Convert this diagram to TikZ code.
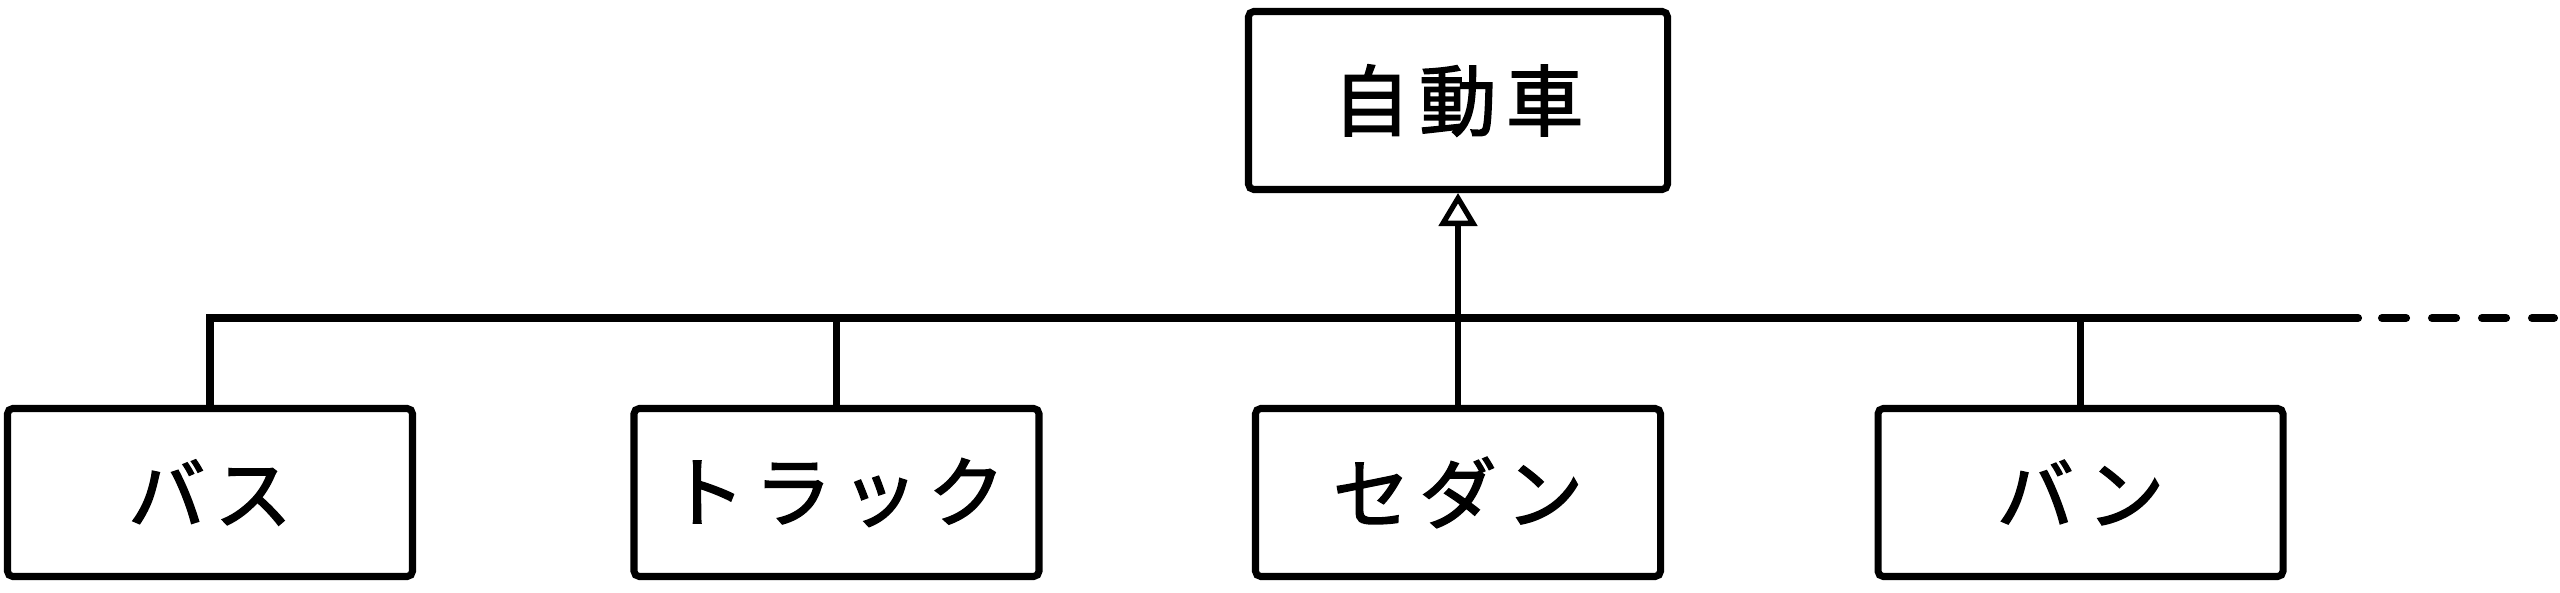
\documentclass[tikz,border=0pt]{standalone}
\usepackage{fontspec}
\newfontfamily\jpfont[LetterSpace=12,FakeBold=2]{Noto Sans CJK JP}
\usetikzlibrary{arrows.meta}
\begin{document}
\begin{tikzpicture}[x=1cm,y=1cm,cls/.style={shape=rectangle,draw=black,line width=2pt,rounded corners=1.5pt,minimum width=4.05cm,minimum height=1.68cm,font=\jpfont\fontsize{22}{22}\selectfont},clsP/.style={cls,minimum width=4.19cm,minimum height=1.78cm},link/.style={line width=1.9pt},busline/.style={line width=2.3pt,line join=miter}]
\def\yb{-3.18};
\def\yc{-4.925};

\useasboundingbox (0,0) rectangle (25.6,-5.93);

\node[clsP] (car) at (14.58,-1.005) {自動車};
\node[cls] (bus) at (2.10,\yc) {バス};
\node[cls] (truck) at (8.365,\yc) {トラック};
\node[cls] (sedan) at (14.58,\yc) {セダン};
\node[cls] (van) at (20.805,\yc) {バン};

\coordinate (jE) at (23.58,\yb);
\coordinate (jD) at (23.82,\yb);
\coordinate (jF) at (25.54,\yb);

\draw[busline,line cap=round] (bus.north) |- (jE);
\draw[busline,line cap=round,dash pattern=on 0.24cm off 0.26cm] (jD) -- (jF);
\draw[link] (truck.north) -- (truck.north |- jE);
\draw[link] (van.north) -- (van.north |- jE);
\draw[link,-{Triangle[open,length=0.33cm,width=0.38cm,line width=1.5pt]}] (sedan.north) -- (car.south);
\end{tikzpicture}
\end{document}
